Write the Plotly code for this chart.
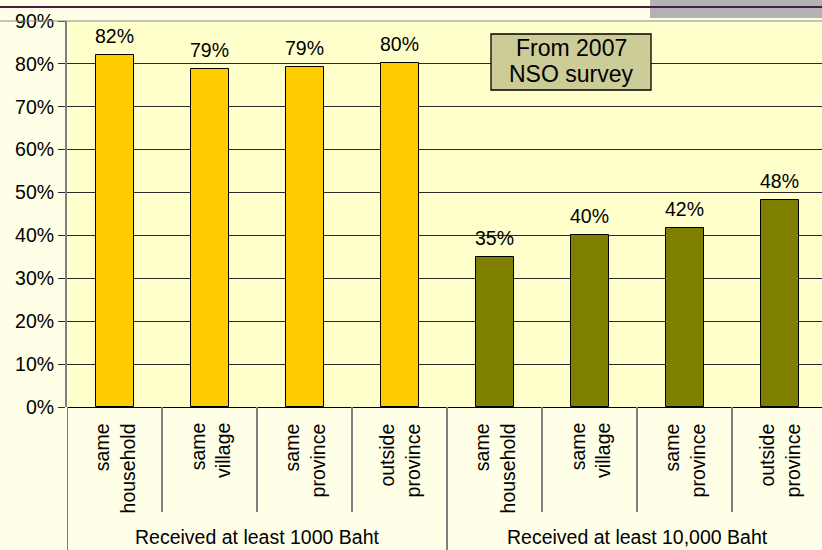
import plotly.graph_objects as go

# Share of remittances by sender location, two thresholds
categories = ["same<br>household", "same<br>village", "same<br>province", "outside<br>province"]
groups = ["Received at least 1000 Baht", "Received at least 10,000 Baht"]
share_1000 = [0.82, 0.787, 0.793, 0.801]
share_10000 = [0.349, 0.402, 0.418, 0.482]
y_ticks = [0, 0.1, 0.2, 0.3, 0.4, 0.5, 0.6, 0.7, 0.8, 0.9]
note_lines = ["From 2007", "NSO survey"]

FONT = "Liberation Sans, Arial, sans-serif"
W, H = 822, 550
ML, MT, MB = 67, 21, 143
plot_h = H - MT - MB
plot_w = W - ML
cat_px = 95.0
FS = 19.5


def py(pix):
    """Paper y from a pixel row."""
    return (H - MB - pix) / plot_h


def px(pix):
    """Paper x from a pixel column."""
    return (pix - ML) / plot_w


n = len(categories)
x1 = list(range(n))
x2 = list(range(n, 2 * n))

fig = go.Figure()
fig.add_trace(go.Bar(x=x1, y=share_1000, width=0.4,
                     marker=dict(color="#FFCC00", line=dict(color="#000000", width=1))))
fig.add_trace(go.Bar(x=x2, y=share_10000, width=0.4,
                     marker=dict(color="#808000", line=dict(color="#000000", width=1))))

annotations = []
shapes = []

# value labels above bars
for xs, vals in ((x1, share_1000), (x2, share_10000)):
    for x, v in zip(xs, vals):
        annotations.append(dict(x=x, y=v, xref="x", yref="y", text=f"{v:.0%}",
                                showarrow=False, yanchor="bottom", yshift=6,
                                font=dict(family=FONT, size=FS, color="#000000")))

# rotated category labels and separators under the axis
for gi, g in enumerate(groups):
    for ci, c in enumerate(categories):
        x = gi * n + ci
        annotations.append(dict(x=x + 0.01, y=py(421), xref="x", yref="paper", text=c,
                                textangle=-90, showarrow=False, align="right",
                                xanchor="center", yanchor="top",
                                font=dict(family=FONT, size=FS, color="#000000")))
    annotations.append(dict(x=gi * n + (n - 1) / 2, y=py(550), xref="x", yref="paper",
                            text=g, showarrow=False, xanchor="center", yanchor="bottom",
                            font=dict(family=FONT, size=FS, color="#000000")))

for b in range(1, 2 * n):
    long_line = (b % n == 0)
    shapes.append(dict(type="line", xref="x", yref="paper", x0=b - 0.5, x1=b - 0.5,
                       y0=0, y1=py(550 if long_line else 512),
                       line=dict(color="#7f7f7f", width=2)))
# left boundary continues the value axis down
shapes.append(dict(type="line", xref="x", yref="paper", x0=-0.5, x1=-0.5,
                   y0=0, y1=py(552), line=dict(color="#7f7f7f", width=2)))

# note box
shapes.append(dict(type="rect", xref="paper", yref="paper",
                   x0=px(491), x1=px(651), y0=py(90), y1=py(34),
                   fillcolor="#CCCC99", line=dict(color="#000000", width=1.3)))
for i, line in enumerate(note_lines):
    annotations.append(dict(x=px(571), y=py(48 + 26 * i), xref="paper", yref="paper",
                            text=line, showarrow=False, xanchor="center", yanchor="middle",
                            font=dict(family=FONT, size=23, color="#000000")))

# header decoration
shapes.append(dict(type="rect", xref="paper", yref="paper",
                   x0=px(650), x1=1.0, y0=py(18), y1=py(-2),
                   fillcolor="#B2B2B2", line=dict(width=0)))
shapes.append(dict(type="line", xref="paper", yref="paper",
                   x0=px(0), x1=1.0, y0=py(7), y1=py(7),
                   line=dict(color="#4B1A4B", width=2)))
shapes.append(dict(type="line", xref="paper", yref="paper",
                   x0=px(0), x1=1.0, y0=py(21), y1=py(21),
                   line=dict(color="#8c8c80", width=1)))

fig.update_layout(
    width=W, height=H,
    margin=dict(l=ML, r=0, t=MT, b=MB, pad=0),
    paper_bgcolor="#FFFFE8",
    plot_bgcolor="#FFFFCC",
    showlegend=False,
    bargap=0,
    annotations=annotations,
    shapes=shapes,
    font=dict(family=FONT, size=FS, color="#000000"),
    xaxis=dict(range=[-0.5, -0.5 + plot_w / cat_px], showticklabels=False,
               showgrid=False, zeroline=False, showline=False, ticks=""),
    yaxis=dict(range=[0, 0.9], tickvals=y_ticks, tickformat=".0%",
               showgrid=True, gridcolor="#2a2a2a", gridwidth=1,
               zeroline=True, zerolinecolor="#000000", zerolinewidth=1,
               showline=True, linecolor="#7f7f7f", linewidth=2,
               ticks="outside", ticklen=7, tickcolor="#2a2a2a", tickwidth=1,
               tickfont=dict(family=FONT, size=FS, color="#000000")),
)

fig.write_html("out.html")
